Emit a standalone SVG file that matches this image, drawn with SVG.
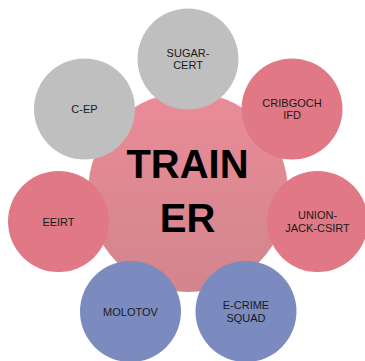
<svg xmlns="http://www.w3.org/2000/svg" width="365" height="361" viewBox="0 0 365 361">
<defs>
<linearGradient id="cg" x1="0" y1="0" x2="0" y2="1">
<stop offset="0" stop-color="#ea8c98"/>
<stop offset="1" stop-color="#d2858c"/>
</linearGradient>
</defs>
<style>
.gray{fill:#bfbfbf}
.pink{fill:#e07985}
.blue{fill:#7b8bc0}
.lbl{font-family:"Liberation Sans",Arial,sans-serif;font-size:11px;fill:#1a1a1a;text-anchor:middle}
.big{font-family:"Liberation Sans",Arial,sans-serif;font-size:40px;font-weight:bold;fill:#000;text-anchor:middle}
</style>
<rect width="365" height="361" fill="#fff"/>
<g id="connectors"/>
<g id="center">
<circle cx="188" cy="192" r="100" fill="url(#cg)"/>
<text class="big" x="187.5" y="178">TRAIN</text>
<text class="big" x="187.5" y="232">ER</text>
</g>
<g id="sugar-cert">
<circle class="gray" cx="188" cy="59" r="50.5"/>
<text class="lbl" x="188" y="56.8">SUGAR-</text>
<text class="lbl" x="188" y="69.4">CERT</text>
</g>
<g id="cribgoch">
<circle class="pink" cx="292" cy="109" r="50.5"/>
<text class="lbl" x="292" y="106.8">CRIBGOCH</text>
<text class="lbl" x="292" y="119.4">IFD</text>
</g>
<g id="union">
<circle class="pink" cx="317.5" cy="221.5" r="50.5"/>
<text class="lbl" x="317.5" y="219">UNION-</text>
<text class="lbl" x="317.5" y="231.6">JACK-CSIRT</text>
</g>
<g id="ecrime">
<circle class="blue" cx="246" cy="311.5" r="50.5"/>
<text class="lbl" x="246" y="309.3">E-CRIME</text>
<text class="lbl" x="246" y="321.9">SQUAD</text>
</g>
<g id="molotov">
<circle class="blue" cx="130.5" cy="311.5" r="50.5"/>
<text class="lbl" x="130.5" y="315.5">MOLOTOV</text>
</g>
<g id="eeirt">
<circle class="pink" cx="58.5" cy="221.5" r="50.5"/>
<text class="lbl" x="58.5" y="225.5">EEIRT</text>
</g>
<g id="cep">
<circle class="gray" cx="84.5" cy="109" r="50.5"/>
<text class="lbl" x="84.5" y="113">C-EP</text>
</g>
</svg>
